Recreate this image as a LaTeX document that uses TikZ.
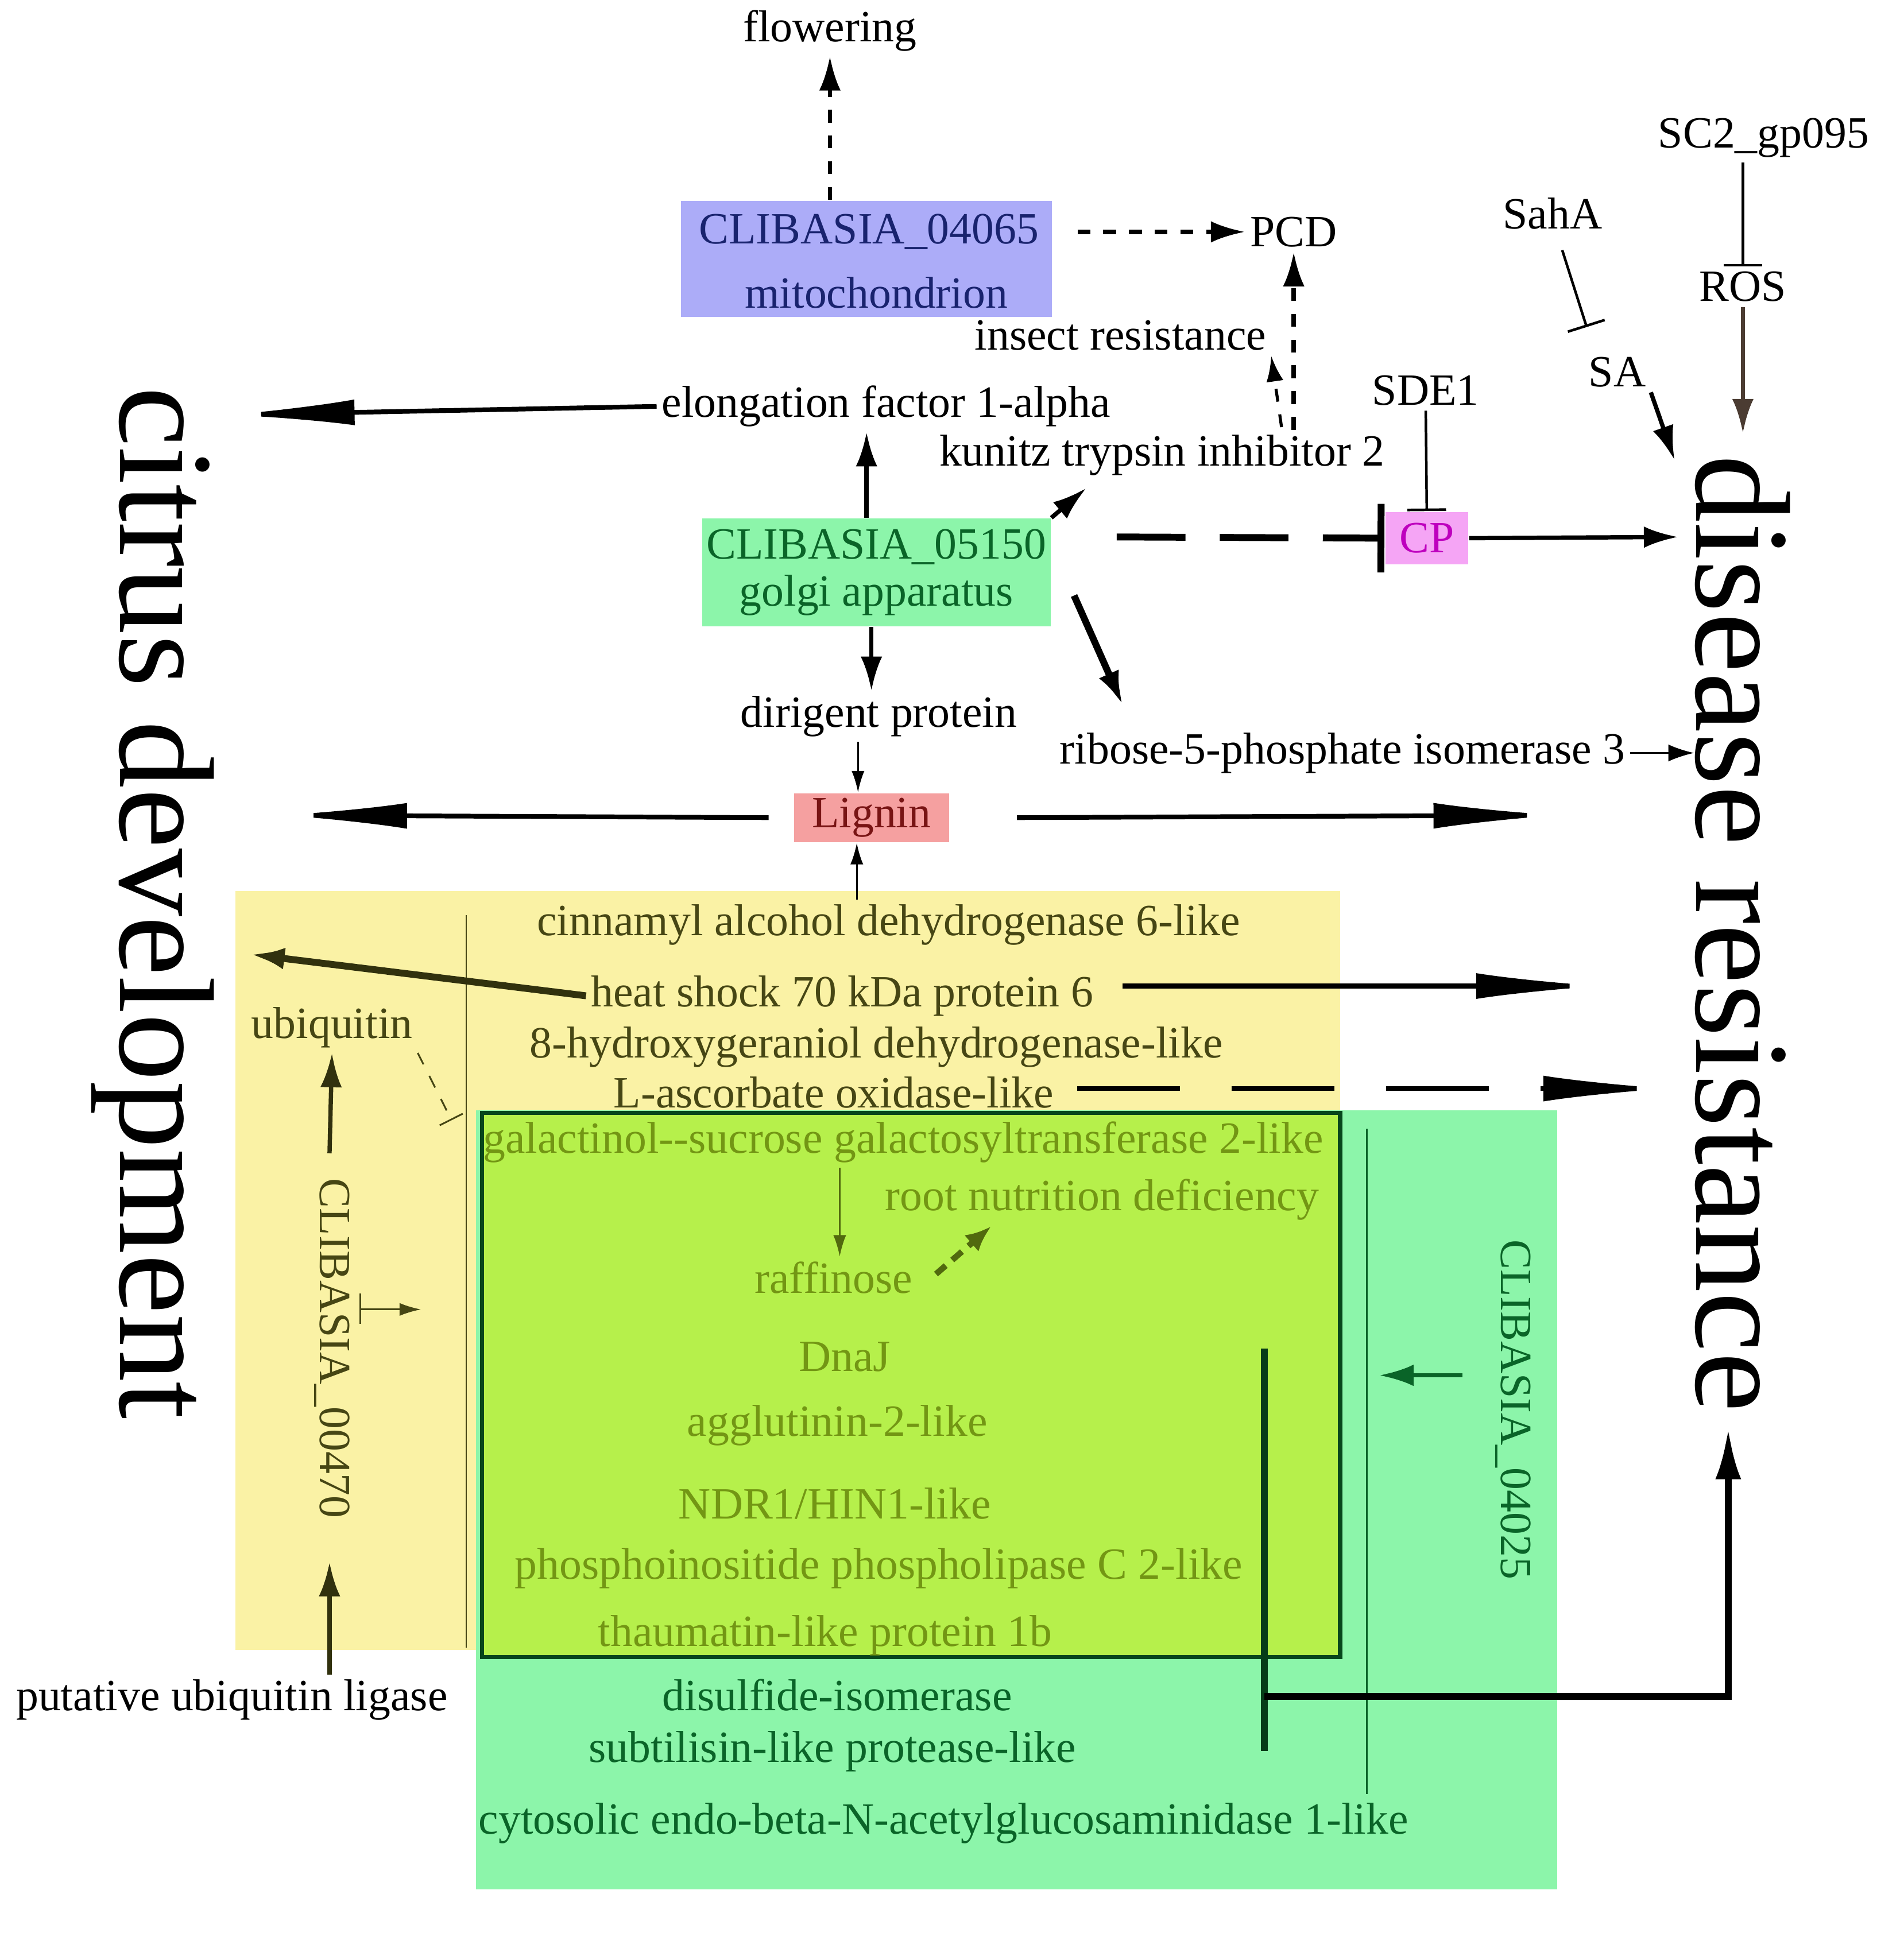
\documentclass[tikz,border=0pt]{standalone}
\usepackage{fontspec}
\setmainfont{Liberation Serif}
\usetikzlibrary{calc,arrows.meta}
\definecolor{boxblue}{RGB}{172,172,248}
\definecolor{txtblue}{RGB}{25,35,110}
\definecolor{boxmint}{RGB}{140,245,170}
\definecolor{txtgreen}{RGB}{10,100,40}
\definecolor{boxred}{RGB}{245,160,160}
\definecolor{txtred}{RGB}{120,20,20}
\definecolor{boxpink}{RGB}{245,165,245}
\definecolor{txtpink}{RGB}{190,0,190}
\definecolor{boxyellow}{RGB}{250,242,165}
\definecolor{boxlime}{RGB}{182,240,75}
\definecolor{txtolive}{RGB}{70,70,20}
\definecolor{txtlime}{RGB}{115,150,20}
\definecolor{brown}{RGB}{75,60,50}
\begin{document}
\begin{tikzpicture}[x=0.01cm,y=-0.01cm,
    lbl/.style={font={\fontsize{10.4}{11}\selectfont},inner sep=1pt},
    big/.style={font={\fontsize{31.5}{33}\selectfont},rotate=-90,inner sep=0pt},
    side/.style={lbl,rotate=-90},
    arr/.style={-{Latex[length=8pt,width=5pt]},line width=1pt},
    longarr/.style={-{Latex[length=30pt,width=6pt]},line width=1.1pt},
    blk/.style={-{Bar[width=9pt]},line width=0.6pt}]
  \useasboundingbox (0,0) rectangle (1560,1584);
  % coloured areas
  \fill[boxyellow] (193,730) rectangle (1098,1352);
  \fill[boxmint] (390,910) rectangle (1276,1548);
  \fill[boxlime,draw=txtgreen!70!black,line width=1pt] (395,912) rectangle (1098,1358);
  \draw[txtolive,line width=0.4pt] (382,750) -- (382,1350);
  \draw[txtgreen,line width=0.4pt] (1120,925) -- (1120,1470);

  % top part
  \node[lbl] (flowering) at (680,25) {flowering};
  \node[fill=boxblue,minimum width=3.04cm,minimum height=0.95cm] (mito) at (710,212) {};
  \node[lbl,txtblue] (c04065) at (712,190) {CLIBASIA\_04065};
  \node[lbl,txtblue] (mitochondrion) at (718,240) {mitochondrion};
  \node[lbl] (pcd) at (1060,190) {PCD};
  \node[lbl] (insect) at (918,275) {insect resistance};
  \node[lbl] (kunitz) at (952,373) {kunitz trypsin inhibitor 2};
  \node[lbl] (elong) at (726,333) {elongation factor 1-alpha};
  \node[lbl] (sde) at (1168,320) {SDE1};
  \node[lbl,fill=boxpink,text=txtpink,minimum width=0.68cm,minimum height=0.43cm] (cp) at (1169,441) {CP};
  \node[lbl] (saha) at (1272,175) {SahA};
  \node[lbl] (sa) at (1325,305) {SA};
  \node[lbl] (sc2) at (1445,113) {SC2\_gp095};
  \node[lbl] (ros) at (1428,235) {ROS};
  \node[lbl,fill=boxmint,text=txtgreen,minimum width=2.78cm,minimum height=0.88cm,align=center] (golgi) at (718,469) {CLIBASIA\_05150\\[0pt]golgi apparatus};
  \node[lbl] (dirigent) at (720,587) {dirigent protein};
  \node[lbl,fill=boxred,text=txtred,minimum width=1.27cm,minimum height=0.4cm] (lignin) at (714,670) {Lignin};
  \node[lbl] (ribose) at (1100,617) {ribose-5-phosphate isomerase 3};
  \node[big] (citrus) at (125,740) {citrus development};
  \node[big] (disease) at (1428,765) {disease resistance};

  % yellow area
  \node[lbl,txtolive] (cinn) at (728,758) {cinnamyl alcohol dehydrogenase 6-like};
  \node[lbl,txtolive] (hsp) at (690,816) {heat shock 70 kDa protein 6};
  \node[lbl,txtolive] (hydroxy) at (718,858) {8-hydroxygeraniol dehydrogenase-like};
  \node[lbl,txtolive] (ascorb) at (683,895) {L-ascorbate oxidase-like};
  \node[lbl,txtolive] (ubiq) at (272,842) {ubiquitin};
  \node[side,txtolive] (c00470) at (272,1105) {CLIBASIA\_00470};
  \node[lbl] (ligase) at (190,1393) {putative ubiquitin ligase};

  % lime area
  \node[lbl,txtlime] (galact) at (740,936) {galactinol-{}-sucrose galactosyltransferase 2-like};
  \node[lbl,txtlime] (root) at (903,983) {root nutrition deficiency};
  \node[lbl,txtlime] (raff) at (683,1047) {raffinose};
  \node[lbl,txtlime] (dnaj) at (692,1112) {DnaJ};
  \node[lbl,txtlime] (agglut) at (686,1168) {agglutinin-2-like};
  \node[lbl,txtlime] (ndr) at (684,1232) {NDR1/HIN1-like};
  \node[lbl,txtlime] (phospho) at (720,1285) {phosphoinositide phospholipase C 2-like};
  \node[lbl,txtlime] (thaum) at (676,1340) {thaumatin-like protein 1b};

  % green area
  \node[lbl,txtgreen] (disulf) at (686,1389) {disulfide-isomerase};
  \node[lbl,txtgreen] (subtil) at (682,1435) {subtilisin-like protease-like};
  \node[lbl,txtgreen] (cytos) at (773,1494) {cytosolic endo-beta-N-acetylglucosaminidase 1-like};
  \node[side,txtgreen] (c04025) at (1240,1155) {CLIBASIA\_04025};

  \coordinate (elongend) at (185,340);
  \coordinate (ligl) at (228,668);
  \coordinate (ligr) at (1280,668);
  \coordinate (hspl) at (205,782);
  \coordinate (hspr) at (1315,808);
  \coordinate (ascr) at (1370,892);
  \coordinate (ubiqend) at (370,918);
  \coordinate (mid) at (345,1073);
  \coordinate (rootend) at (812,1005);
  \coordinate (g04025) at (1130,1127);
  \coordinate (bartop) at (1036,1105);
  \coordinate (barbot) at (1036,1435);
  \coordinate (barmid) at (1036,1390);
  \coordinate (corner) at (1416,1390);
  \coordinate (drend) at (1416,1170);

  % connectors
  \draw[arr,dashed] (mito.north -| flowering) -- (flowering);
  \draw[arr,dashed] (mito.east) ++(20,-22) -- (pcd);
  \draw[arr,dashed] (kunitz.north -| pcd) -- (pcd);
  \draw[-{Latex[length=6pt,width=4pt]},dashed,line width=0.7pt] (1050,350) -- (insect.south east);
  \draw[longarr] (elong.west) -- (elongend);
  \draw[arr] (golgi.north -| mito) -- (elong.south -| mito);
  \draw[arr] (golgi.north east) -- (890,400);
  \draw[arr,line width=1.6pt] (880,488) -- (920,578);
  \draw[arr] (golgi.south -| lignin) -- (dirigent.north -| lignin);
  \draw[-{Latex[length=5pt,width=3pt]}] (dirigent.south -| 703,0) -- (lignin.north -| 703,0);
  \draw[blk,line width=1.6pt,dash pattern=on 16pt off 8pt,-{Bar[width=16pt]}] (915,440) -- (cp.west);
  \draw[blk] (sde) -- (cp.north);
  \draw[arr] (cp.east) -- (1375,440);
  \draw[blk] (1280,205) -- (1300,268);
  \draw[arr] (sa.south east) -- (1372,377);
  \draw[blk] (sc2.south -| ros) -- (ros.north);
  \draw[arr,brown] (ros.south) -- (1428,355);
  \draw[-{Latex[length=6pt,width=4pt]}] (ribose.east) -- (1388,617);
  \draw[longarr] (lignin.west) ++(-20,0) -- (ligl);
  \draw[longarr] (lignin.east) ++(55,0) -- (ligr);
  \draw[-{Latex[length=5pt,width=3pt]}] (cinn.north -| 702,0) -- (lignin.south -| 702,0);
  \draw[arr,txtolive!70!black,line width=1.6pt] (hsp.west) -- (hspl);
  \draw[longarr] (hsp.east) ++(20,-8) -- (hspr);
  \draw[longarr,dash pattern=on 24pt off 12pt] (ascorb.east) ++(15,-3) -- (ascr);
  \draw[blk,dashed,line width=0.4pt,txtolive,-{Bar[width=6pt]}] (ubiq.south east) -- (ubiqend);
  \draw[arr,txtolive!70!black] (270,945) -- (ubiq.south);
  \draw[arr,txtolive!70!black] (ligase.north -| 270,0) -- (270,1280);
  \draw[txtolive] (295,1060) -- (295,1085);
  \draw[-{Latex[length=5pt,width=3pt]},txtolive] (295,1073) -- (mid);
  \draw[-{Latex[length=5pt,width=3pt]},txtlime!70!black] (galact.south -| 688,0) -- (raff.north -| 688,0);
  \draw[-{Latex[length=6pt,width=5pt]},txtlime!70!black,line width=1.4pt,dash pattern=on 3pt off 2pt] (raff.east) ++(15,-3) -- (rootend);
  \draw[arr,txtgreen] (1198,1127) -- (g04025);
  \draw[line width=1.6pt,txtgreen!60!black] (bartop) -- (barbot);
  \draw[arr,line width=1.6pt,-{Latex[length=12pt,width=6pt]}] (barmid) -- (corner) -- (drend);
\end{tikzpicture}
\end{document}
